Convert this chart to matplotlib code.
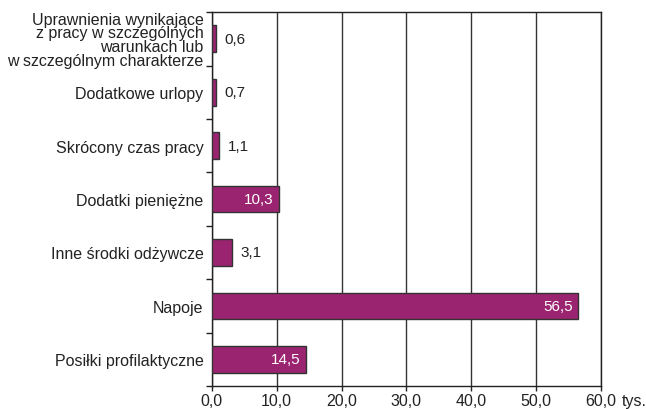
import matplotlib
matplotlib.use("Agg")
import matplotlib.pyplot as plt
from matplotlib.ticker import FixedLocator
from matplotlib.transforms import offset_copy

plt.rcParams['font.family'] = ['Liberation Sans', 'DejaVu Sans']

categories = [
    "Posiłki profilaktyczne",
    "Napoje",
    "Inne środki odżywcze",
    "Dodatki pieniężne",
    "Skrócony czas pracy",
    "Dodatkowe urlopy",
    "Uprawnienia wynikające\nz pracy w szczególnych\nwarunkach lub\nw szczególnym charakterze",
]
values = [14.5, 56.5, 3.1, 10.3, 1.1, 0.7, 0.6]
value_labels = ["14,5", "56,5", "3,1", "10,3", "1,1", "0,7", "0,6"]
xticks = [0, 10, 20, 30, 40, 50, 60]
xtick_labels = ["0,0", "10,0", "20,0", "30,0", "40,0", "50,0", "60,0"]
unit = "tys."

fs = 11.5
fig = plt.figure(figsize=(6.46, 4.10), dpi=100)
ax = fig.add_axes([0.328, 0.056, 0.602, 0.912])

y = list(range(len(categories)))
ax.barh(y, values, height=0.5, color="#9B2470", edgecolor="#333333", linewidth=1.0, zorder=3)

for yi, v, lab in zip(y, values, value_labels):
    if v > 8:
        ax.text(v - 0.8, yi, lab, ha="right", va="center", color="white", fontsize=11, zorder=4)
    else:
        ax.text(v + 1.3, yi, lab, ha="left", va="center", color="#222222", fontsize=11, zorder=4)

ax.set_xlim(0, 60)
ax.set_ylim(-0.5, len(categories) - 0.5)
ax.set_xticks(xticks)
ax.set_xticklabels(xtick_labels, fontsize=fs, color="#222222")
ax.set_yticks(y)
ax.set_yticklabels(categories, fontsize=fs, color="#222222", linespacing=0.9)
ax.yaxis.set_minor_locator(FixedLocator([i + 0.5 for i in range(-1, len(categories))]))
ax.tick_params(axis="y", which="major", length=0, pad=6)
ax.tick_params(axis="y", which="minor", length=4, width=1.0, color="#222222", direction="out")
ax.tick_params(axis="x", length=3.5, width=1.0, color="#222222", direction="out", pad=1.5)

ax.grid(axis="x", color="#333333", linewidth=1.0, zorder=0)
for s in ax.spines.values():
    s.set_color("#222222")
    s.set_linewidth(1.0)

tr = offset_copy(ax.transAxes, fig=fig, x=0, y=-5.0, units="points")
ax.text(1.055, 0, unit, transform=tr, ha="left", va="top", fontsize=fs, color="#222222")

fig.savefig("out.png", dpi=100)
